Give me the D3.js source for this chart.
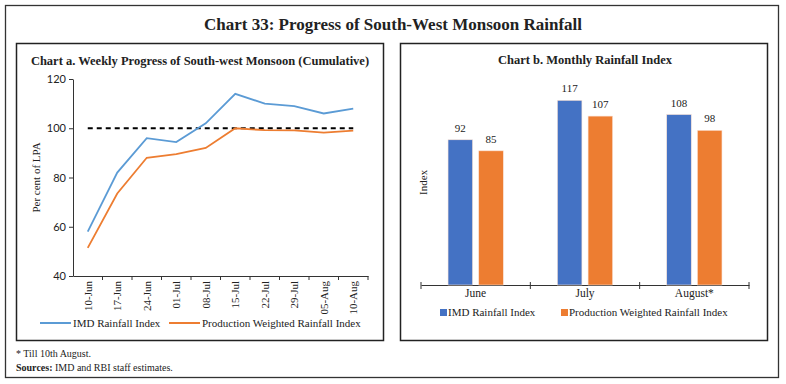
<!DOCTYPE html>
<html>
<head>
<meta charset="utf-8">
<script src="https://cdn.jsdelivr.net/npm/d3@7"></script>
<style>
  body { margin: 0; background: #fff; }
  svg { display: block; }
  text { font-family: "Liberation Serif", "DejaVu Serif", serif; fill: #222; }
</style>
</head>
<body>
<svg id="drawing_region"></svg>
<script>
// chart a data
const weeks = ['10-Jun', '17-Jun', '24-Jun', '01-Jul', '08-Jul', '15-Jul', '22-Jul', '29-Jul', '05-Aug', '10-Aug'];
const imdWeekly = [58, 82, 96, 94.4, 102, 114, 110, 109, 106, 108];
const pwWeekly = [51.4, 73.5, 88, 89.5, 92, 100, 99.2, 99.1, 98.2, 99];
const lpaLine = 100;
const yTicksA = [40, 60, 80, 100, 120];

// chart b data
const months = ['June', 'July', 'August*'];
const imdMonthly = [92, 117, 108];
const pwMonthly = [85, 107, 98];

const seriesNames = ['IMD Rainfall Index', 'Production Weighted Rainfall Index'];

const W = 786, H = 384;
const svg = d3.select('#drawing_region').attr('width', W).attr('height', H);

// frames
svg.append('rect').attr('x', 5.5).attr('y', 5.5).attr('width', 773).attr('height', 372)
    .attr('fill', 'none').attr('stroke', '#333').attr('stroke-width', 1.3);
svg.append('rect').attr('x', 16.5).attr('y', 43.5).attr('width', 367).attr('height', 297)
    .attr('fill', 'none').attr('stroke', '#222').attr('stroke-width', 1.5);
svg.append('rect').attr('x', 400.5).attr('y', 43.5).attr('width', 367).attr('height', 297)
    .attr('fill', 'none').attr('stroke', '#222').attr('stroke-width', 1.5);

svg.append('text').attr('x', 393).attr('y', 30).attr('text-anchor', 'middle')
    .style('font-size', '17px').style('font-weight', 'bold')
    .text('Chart 33: Progress of South-West Monsoon Rainfall');

// ---------- chart a ----------
const ga = svg.append('g');
ga.append('text').attr('x', 200).attr('y', 65).attr('text-anchor', 'middle')
    .style('font-size', '12.5px').style('font-weight', 'bold')
    .text('Chart a. Weekly Progress of South-west Monsoon (Cumulative)');

const xa = d3.scaleBand().domain(weeks).range([73, 368]);
const ya = d3.scaleLinear().domain([40, 120]).range([276, 79]);
const cx = d => xa(d) + xa.bandwidth() / 2;

const yAxisA = ga.append('g').attr('transform', 'translate(73,0)')
    .call(d3.axisLeft(ya).tickValues(yTicksA).tickSize(4).tickSizeOuter(0));
yAxisA.select('.domain').attr('stroke', '#333');
yAxisA.selectAll('.tick line').attr('stroke', '#333');
yAxisA.selectAll('.tick text').style('font-family', 'Lato, sans-serif').style('font-size', '11px').attr('fill', '#333');

const xAxisA = ga.append('g').attr('transform', 'translate(0,276)')
    .call(d3.axisBottom(xa).tickSize(0).tickSizeOuter(0));
xAxisA.select('.domain').attr('stroke', '#333');
xAxisA.selectAll('.tick text')
    .style('font-size', '11px')
    .attr('transform', 'rotate(-90)')
    .attr('text-anchor', 'end')
    .attr('x', -5).attr('y', 0).attr('dy', '0.35em');
// band boundary ticks
xAxisA.selectAll('.bound').data(weeks).enter().append('line')
    .attr('x1', d => xa(d) + xa.bandwidth()).attr('x2', d => xa(d) + xa.bandwidth())
    .attr('y1', 0).attr('y2', 4).attr('stroke', '#333');

ga.append('text').attr('transform', `translate(36,${ya(80)}) rotate(-90)`)
    .attr('text-anchor', 'middle').style('font-size', '11px').attr('dy', '0.35em')
    .text('Per cent of  LPA');

ga.append('line').attr('x1', cx(weeks[0])).attr('x2', cx(weeks[weeks.length - 1]))
    .attr('y1', ya(lpaLine)).attr('y2', ya(lpaLine))
    .attr('stroke', '#000').attr('stroke-width', 2).attr('stroke-dasharray', '5,4');

const line = d3.line().x((d, i) => cx(weeks[i])).y(d => ya(d));
ga.append('path').datum(imdWeekly).attr('d', line).attr('fill', 'none')
    .attr('stroke', '#5B9BD5').attr('stroke-width', 1.8);
ga.append('path').datum(pwWeekly).attr('d', line).attr('fill', 'none')
    .attr('stroke', '#ED7D31').attr('stroke-width', 1.8);

// legend a
const legA = [{x: 40, c: '#5B9BD5'}, {x: 169, c: '#ED7D31'}];
legA.forEach((l, i) => {
    ga.append('line').attr('x1', l.x).attr('x2', l.x + 31).attr('y1', 323).attr('y2', 323)
        .attr('stroke', l.c).attr('stroke-width', 2);
    ga.append('text').attr('x', l.x + 33).attr('y', 327).style('font-size', '11px').text(seriesNames[i]);
});

// ---------- chart b ----------
const gb = svg.append('g');
gb.append('text').attr('x', 585).attr('y', 64).attr('text-anchor', 'middle')
    .style('font-size', '12.5px').style('font-weight', 'bold')
    .text('Chart b. Monthly Rainfall Index');

const xb = d3.scaleBand().domain(months).range([421, 749]).paddingInner(0).paddingOuter(0);
const xb1 = d3.scaleBand().domain([0, 1]).range([0, xb.bandwidth()]).paddingInner(0.2).paddingOuter(0.88);
const yb = d3.scaleLinear().domain([0, 140]).range([285, 64]);

const xAxisB = gb.append('g').attr('transform', 'translate(0,285)')
    .call(d3.axisBottom(xb).tickSize(0).tickSizeOuter(0));
xAxisB.select('.domain').attr('stroke', '#333');
xAxisB.selectAll('.tick text').style('font-size', '11.5px').attr('dy', '0.9em').attr('y', 2);
const bounds = [xb.range()[0]].concat(months.map(m => xb(m) + xb.bandwidth()));
xAxisB.selectAll('.bound').data(bounds).enter().append('line')
    .attr('x1', d => d).attr('x2', d => d).attr('y1', -3).attr('y2', 4).attr('stroke', '#333');

gb.append('text').attr('transform', `translate(423,${yb(65)}) rotate(-90)`)
    .attr('text-anchor', 'middle').style('font-size', '11px').attr('dy', '0.35em')
    .text('Index');

const barColors = ['#4472C4', '#ED7D31'];
const rows = months.map((m, i) => ({month: m, vals: [imdMonthly[i], pwMonthly[i]]}));
const grp = gb.selectAll('.grp').data(rows).enter().append('g')
    .attr('transform', d => `translate(${xb(d.month)},0)`);
grp.selectAll('rect').data(d => d.vals).enter().append('rect')
    .attr('x', (d, i) => xb1(i)).attr('width', xb1.bandwidth())
    .attr('y', d => yb(d)).attr('height', d => yb(0) - yb(d))
    .attr('fill', (d, i) => barColors[i])
    .attr('stroke', '#fbe3d6').attr('stroke-width', 0.6);
grp.selectAll('.lbl').data(d => d.vals).enter().append('text')
    .attr('x', (d, i) => xb1(i) + xb1.bandwidth() / 2).attr('y', d => yb(d) - 8)
    .attr('text-anchor', 'middle').style('font-size', '11px').text(d => d);

// legend b
const legB = [440, 561];
legB.forEach((x, i) => {
    gb.append('rect').attr('x', x).attr('y', 309).attr('width', 7).attr('height', 7).attr('fill', barColors[i]);
    gb.append('text').attr('x', x + 8).attr('y', 316).style('font-size', '11px').text(seriesNames[i]);
});

// footnotes
svg.append('text').attr('x', 16).attr('y', 357).style('font-size', '10px').text('* Till 10th August.');
const src = svg.append('text').attr('x', 16).attr('y', 371).style('font-size', '10px');
src.append('tspan').style('font-weight', 'bold').text('Sources:');
src.append('tspan').text(' IMD and RBI staff estimates.');
</script>
</body>
</html>
